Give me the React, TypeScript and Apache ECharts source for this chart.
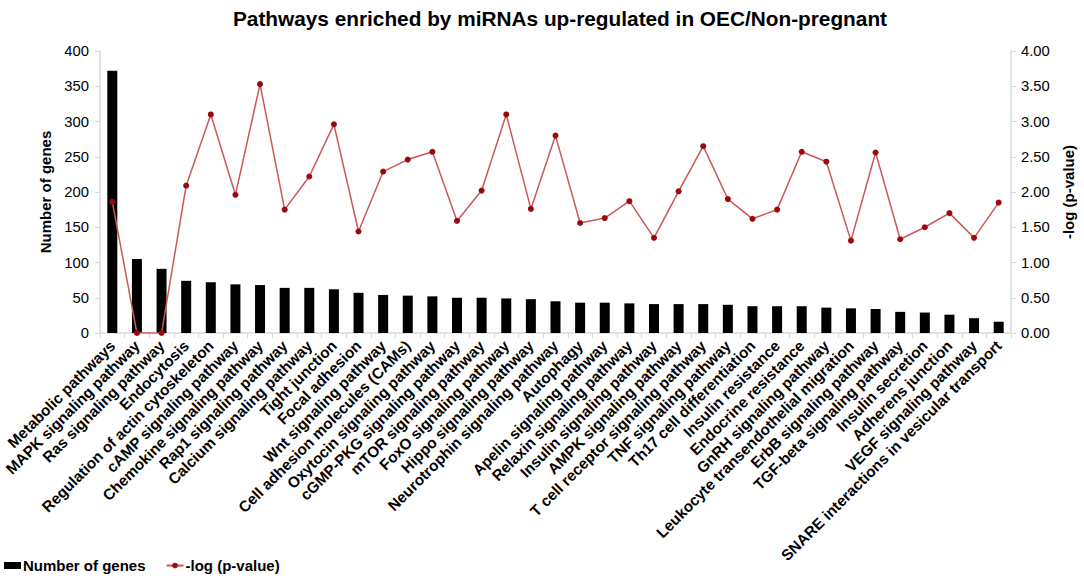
import React, { useEffect, useRef } from "react";
import * as echarts from "echarts";

const categories = [
  "Metabolic pathways",
  "MAPK signaling pathway",
  "Ras signaling pathway",
  "Endocytosis",
  "Regulation of actin cytoskeleton",
  "cAMP signaling pathway",
  "Chemokine signaling pathway",
  "Rap1 signaling pathway",
  "Calcium signaling pathway",
  "Tight junction",
  "Focal adhesion",
  "Wnt signaling pathway",
  "Cell adhesion molecules (CAMs)",
  "Oxytocin signaling pathway",
  "cGMP-PKG signaling pathway",
  "mTOR signaling pathway",
  "FoxO signaling pathway",
  "Hippo signaling pathway",
  "Neurotrophin signaling pathway",
  "Autophagy",
  "Apelin signaling pathway",
  "Relaxin signaling pathway",
  "Insulin signaling pathway",
  "AMPK signaling pathway",
  "T cell receptor signaling pathway",
  "TNF signaling pathway",
  "Th17 cell differentiation",
  "Insulin resistance",
  "Endocrine resistance",
  "GnRH signaling pathway",
  "Leukocyte transendothelial migration",
  "ErbB signaling pathway",
  "TGF-beta signaling pathway",
  "Insulin secretion",
  "Adherens junction",
  "VEGF signaling pathway",
  "SNARE interactions in vesicular transport",
];

const geneCounts = [
  372, 105, 91, 74, 72, 69, 68, 64, 64, 62, 57, 54, 53, 52, 50, 50, 49, 48, 45,
  43, 43, 42, 41, 41, 41, 40, 38, 38, 38, 36, 35, 34, 30, 29, 26, 21, 16,
];

const logP = [
  1.86, 0, 0, 2.09, 3.1, 1.96, 3.53, 1.75, 2.22, 2.96, 1.44, 2.29, 2.46, 2.57,
  1.59, 2.02, 3.1, 1.76, 2.8, 1.56, 1.63, 1.87, 1.35, 2.01, 2.65, 1.9, 1.62,
  1.75, 2.57, 2.43, 1.31, 2.56, 1.33, 1.5, 1.7, 1.35, 1.85,
];

const leftTicks = { min: 0, max: 400, interval: 50 };
const rightTicks = { min: 0, max: 4, interval: 0.5 };

const FONT = "'Liberation Sans', Arial, Helvetica, sans-serif";
const AXIS_GRAY = "#d9d9d9";

export default function App() {
  const ref = useRef<HTMLDivElement>(null);

  useEffect(() => {
    if (!ref.current) return;
    const chart = echarts.init(ref.current, undefined, { renderer: "svg" });
    chart.setOption({
      animation: false,
      backgroundColor: "#ffffff",
      textStyle: { fontFamily: FONT },
      title: {
        text: "Pathways enriched by miRNAs up-regulated in OEC/Non-pregnant",
        left: 555,
        textAlign: "center",
        top: 3,
        textStyle: {
          fontFamily: FONT,
          fontSize: 20.8,
          fontWeight: "bold",
          color: "#000",
        },
      },
      legend: {
        left: 4,
        top: 558,
        padding: 0,
        itemWidth: 17,
        itemHeight: 7,
        itemGap: 20,
        textStyle: {
          fontFamily: FONT,
          fontSize: 15,
          fontWeight: "bold",
          color: "#000",
          padding: [0, 0, 0, -3],
        },
        data: [
          { name: "Number of genes", icon: "rect" },
          { name: "-log (p-value)" },
        ],
      },
      grid: { left: 100, right: 64, top: 51, bottom: 245 },
      xAxis: {
        type: "category",
        data: categories,
        boundaryGap: true,
        axisLine: { lineStyle: { color: AXIS_GRAY, width: 1.5 } },
        axisTick: { show: true, length: 5, lineStyle: { color: AXIS_GRAY } },
        axisLabel: {
          interval: 0,
          rotate: 45,
          margin: 10,
          fontFamily: FONT,
          fontSize: 15.3,
          fontWeight: "bold",
          color: "#000",
        },
      },
      yAxis: [
        {
          type: "value",
          min: leftTicks.min,
          max: leftTicks.max,
          interval: leftTicks.interval,
          name: "Number of genes",
          nameLocation: "middle",
          nameRotate: 90,
          nameGap: 41,
          nameTextStyle: {
            fontFamily: FONT,
            fontSize: 15,
            fontWeight: "bold",
            color: "#000",
          },
          splitLine: { show: false },
          axisLine: { show: true, lineStyle: { color: AXIS_GRAY, width: 1.5 } },
          axisTick: { show: true, length: 5, lineStyle: { color: AXIS_GRAY } },
          axisLabel: {
            margin: 11,
            fontFamily: FONT,
            fontSize: 14.8,
            color: "#000",
          },
        },
        {
          type: "value",
          min: rightTicks.min,
          max: rightTicks.max,
          interval: rightTicks.interval,
          position: "right",
          name: "-log (p-value)",
          nameLocation: "middle",
          nameRotate: 90,
          nameGap: 50,
          nameTextStyle: {
            fontFamily: FONT,
            fontSize: 15,
            fontWeight: "bold",
            color: "#000",
          },
          splitLine: { show: false },
          axisLine: { show: true, lineStyle: { color: AXIS_GRAY, width: 1.5 } },
          axisTick: { show: true, length: 5, lineStyle: { color: AXIS_GRAY } },
          axisLabel: {
            margin: 10,
            fontFamily: FONT,
            fontSize: 14.8,
            color: "#000",
            formatter: (v: number) => v.toFixed(2),
          },
        },
      ],
      series: [
        {
          name: "Number of genes",
          type: "bar",
          data: geneCounts,
          yAxisIndex: 0,
          barWidth: 10,
          itemStyle: { color: "#000000" },
        },
        {
          name: "-log (p-value)",
          type: "line",
          data: logP,
          yAxisIndex: 1,
          symbol: "circle",
          symbolSize: 6,
          lineStyle: { color: "#c9585a", width: 1.5 },
          itemStyle: { color: "#9b0a0a" },
        },
      ],
    });
    return () => chart.dispose();
  }, []);

  return (
    <div
      ref={ref}
      style={{ position: "fixed", left: 0, top: 0, width: 1084, height: 578 }}
    />
  );
}
